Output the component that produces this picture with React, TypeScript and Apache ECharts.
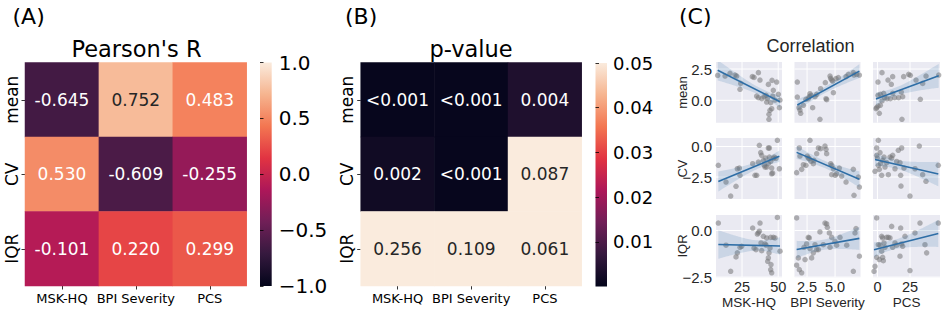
import React, { useEffect, useRef } from 'react';
import * as echarts from 'echarts';

// ---------- data ----------
const rowLabels = ['mean', 'CV', 'IQR'];
const colLabels = ['MSK-HQ', 'BPI Severity', 'PCS'];

const pearsonR = [
  [-0.645, 0.752, 0.483],
  [0.530, -0.609, -0.255],
  [-0.101, 0.220, 0.299],
];
const pValues = [
  [0.0005, 0.0005, 0.004],
  [0.002, 0.0005, 0.087],
  [0.256, 0.109, 0.061],
];
const pLabels = [
  ['<0.001', '<0.001', '0.004'],
  ['0.002', '<0.001', '0.087'],
  ['0.256', '0.109', '0.061'],
];
const pTicks = [0.01, 0.02, 0.03, 0.04, 0.05];

// scatter data (x = questionnaire score, y = feature)
const mean_MSKHQ = [[8.2,1.99],[13.3,1.94],[16.7,2.15],[20.2,2.02],[21.3,1.94],[23.6,0.88],[24.1,1.35],[32.1,1.89],[33.3,1.83],[36.3,2.21],[37.4,1.62],[35.1,0.34],[36.3,0.21],[38.6,0.13],[40.2,0.29],[41.6,0.40],[42.5,0.13],[43.2,1.27],[44.8,-0.19],[45.7,1.59],[45.5,-0.67],[44.3,-0.80],[43.6,-1.12],[43.6,-1.52],[46.6,0.80],[47.8,0.02],[48.9,1.46],[50.1,0.48],[50.8,-0.59],[51.2,0.02],[42.0,-0.14],[46.2,0.34]];
const mean_BPI = [[1.63,1.46],[1.63,0.26],[1.78,-0.59],[1.87,-0.78],[1.93,-1.04],[2.17,-0.40],[2.40,0.08],[2.61,0.13],[2.70,0.29],[2.76,0.53],[2.85,0.40],[3.00,-0.59],[3.21,0.29],[3.36,0.48],[3.65,-1.52],[4.13,1.41],[4.19,0.13],[4.25,0.05],[4.55,1.94],[4.61,1.75],[4.70,1.62],[4.79,1.54],[4.85,0.61],[5.08,1.73],[5.29,1.81],[5.98,1.89],[6.18,2.07],[6.63,2.21],[6.69,2.02],[6.93,2.07],[7.17,2.02],[3.71,0.93]];
const mean_PCS = [[3.50,2.21],[0.43,1.46],[8.10,1.62],[11.68,1.89],[10.66,1.28],[0.43,0.40],[2.21,0.48],[4.77,0.56],[5.54,0.21],[7.33,0.13],[9.89,0.13],[11.68,0.56],[13.21,0.21],[16.28,0.21],[18.32,0.66],[19.35,0.29],[-0.59,-0.59],[0.43,-0.46],[2.21,-0.40],[1.44,-1.04],[3.50,-0.05],[20.1,1.89],[23.95,2.08],[25.2,2.0],[29.6,1.62],[34.7,1.35],[32.9,0.08],[37.3,1.94],[47.0,2.02],[18.8,-1.52],[-1.1,-0.67]];
const cv_MSKHQ = [[8.65,-1.54],[13.95,-2.91],[17.17,-4.06],[20.85,-3.26],[21.77,-1.82],[23.15,-1.76],[23.61,-2.36],[32.36,-1.41],[33.97,-2.36],[35.12,-2.36],[36.28,-1.27],[36.97,0.10],[37.89,-0.50],[38.58,-0.72],[39.73,-1.13],[40.42,-1.54],[41.34,-0.94],[42.03,-1.68],[43.18,-0.12],[43.87,-0.12],[43.87,-0.86],[44.79,-1.22],[45.48,-1.76],[45.48,-2.23],[46.17,-2.17],[46.63,-0.97],[47.32,-0.86],[48.48,-0.97],[49.40,0.51],[50.78,-1.82],[43.18,-1.41],[40.88,-1.68]];
const cv_BPI = [[1.57,-2.14],[1.81,-0.12],[1.87,-0.78],[2.02,-1.87],[2.17,-1.49],[2.40,-1.54],[2.52,-0.78],[2.61,-0.94],[2.70,-1.00],[2.76,0.51],[2.85,-1.21],[3.12,-1.13],[3.36,-0.59],[3.51,-0.12],[3.71,-0.18],[4.10,0.04],[4.19,-0.23],[4.25,-0.59],[4.61,-1.41],[4.70,-1.54],[4.85,-1.82],[5.01,-2.36],[5.14,-2.23],[5.38,-1.76],[5.59,-2.42],[5.98,-2.91],[6.63,-1.87],[6.69,-4.00],[7.08,-2.50],[7.17,-3.32],[4.70,-2.31],[3.06,-1.41]];
const cv_PCS = [[-1.87,-2.03],[-0.59,-0.72],[-0.08,-0.94],[0.69,0.51],[0.69,-1.54],[1.46,-1.87],[1.97,-0.50],[2.48,-1.41],[3.25,-2.36],[4.01,-1.13],[5.04,-0.86],[5.80,-1.68],[7.08,-1.32],[8.36,-2.31],[9.64,-0.86],[10.91,-0.94],[11.68,-0.72],[13.47,-1.82],[14.75,-1.22],[16.03,-0.31],[17.31,-1.32],[17.82,-2.36],[18.58,-0.12],[18.07,-3.24],[20.37,-1.76],[24.97,-4.06],[28.81,-1.82],[32.13,0.04],[34.69,-2.31],[37.24,-2.85],[46.70,-1.54],[-0.59,-0.12]];
const iqr_MSKHQ = [[8.65,0.40],[13.95,-0.79],[17.17,-2.19],[20.85,-1.42],[21.77,-1.20],[23.61,-0.90],[24.76,-0.85],[32.36,0.13],[33.28,-0.94],[34.66,-1.03],[35.58,-0.19],[36.28,-0.13],[36.97,-0.04],[37.43,0.40],[38.12,-0.67],[38.58,-1.08],[39.73,-0.31],[40.88,-0.72],[41.57,-0.79],[42.03,-0.40],[42.72,-1.65],[43.18,-1.47],[43.64,-1.20],[44.33,-0.94],[44.79,-0.37],[45.02,-1.83],[44.79,-2.10],[45.48,-2.27],[46.63,-0.37],[47.78,-0.40],[49.40,0.70],[51.24,-1.11]];
const iqr_BPI = [[1.57,0.67],[1.57,-1.86],[1.72,-1.47],[1.81,-2.10],[2.02,-2.27],[2.23,-0.90],[2.32,-1.56],[2.46,-0.72],[2.61,-0.37],[2.70,-0.40],[2.76,-0.97],[2.91,-1.47],[3.06,-1.20],[3.21,-0.76],[3.36,-1.03],[3.65,-0.08],[3.95,-0.76],[4.10,0.40],[4.25,0.35],[4.31,0.17],[4.49,-0.13],[4.55,-0.90],[4.70,-0.37],[4.99,-0.58],[5.14,-0.79],[5.44,-0.37],[6.04,-0.79],[6.63,-2.19],[6.78,-0.13],[6.87,0.10],[7.17,-1.38],[3.51,-1.03]];
const iqr_PCS = [[-2.63,-2.19],[-1.87,-1.92],[-0.59,0.67],[-0.59,-1.44],[0.69,-0.76],[1.46,-1.56],[1.97,-0.79],[3.25,-0.31],[3.25,-1.11],[4.01,-1.44],[4.52,-1.62],[5.04,-0.67],[5.80,-0.90],[7.08,-0.37],[8.36,-0.37],[9.64,-0.40],[10.91,0.22],[11.68,-0.90],[13.47,-0.67],[14.75,-0.79],[17.31,-1.38],[17.82,0.13],[18.58,-0.72],[19.35,-0.85],[21.14,-0.31],[24.97,-2.15],[28.81,-0.13],[32.64,0.40],[36.47,-0.76],[37.75,-1.20],[46.70,0.40],[4.01,-0.40]];

const scatterGrid = [
  [mean_MSKHQ, mean_BPI, mean_PCS],
  [cv_MSKHQ, cv_BPI, cv_PCS],
  [iqr_MSKHQ, iqr_BPI, iqr_PCS],
];

// axis limits and ticks of the pair plot
const xLimits = [[7.04, 52.6], [1.38, 7.27], [-3.4, 48.0]];
const yLimits = [[-1.79, 3.06], [-4.30, 0.70], [-2.51, 0.83]];
const xTickValues = [[25, 50], [2.5, 5.0], [0, 25]];
const xTickDecimals = [0, 1, 0];
const yTickValues = [[0, 2.5], [-2.5, 0], [-2.5, 0]];

// ---------- styling helpers ----------
const DV = 'DejaVu Sans';
const AR = 'Liberation Sans';
const ROCKET = ['#03051a', '#35193e', '#701f57', '#ad1759', '#e13342', '#f37651', '#f6b48f', '#faebdd'];

function hexToRgb(h: string) {
  return [parseInt(h.slice(1, 3), 16), parseInt(h.slice(3, 5), 16), parseInt(h.slice(5, 7), 16)];
}
function rocket(t: number) {
  const tt = Math.max(0, Math.min(1, t));
  const pos = tt * (ROCKET.length - 1);
  const i = Math.min(Math.floor(pos), ROCKET.length - 2);
  const f = pos - i;
  const a = hexToRgb(ROCKET[i]);
  const b = hexToRgb(ROCKET[i + 1]);
  return a.map((v, k) => Math.round(v + (b[k] - v) * f));
}
function luminance(c: number[]) {
  const m = c.map((v) => {
    const s = v / 255;
    return s <= 0.03928 ? s / 12.92 : Math.pow((s + 0.055) / 1.055, 2.4);
  });
  return 0.2126 * m[0] + 0.7152 * m[1] + 0.0722 * m[2];
}
const minus = (s: string) => s.replace('-', '\u2212');

function regress(pts: number[][]) {
  const n = pts.length;
  const mx = pts.reduce((s, p) => s + p[0], 0) / n;
  const my = pts.reduce((s, p) => s + p[1], 0) / n;
  let sxx = 0, sxy = 0;
  pts.forEach((p) => { sxx += (p[0] - mx) ** 2; sxy += (p[0] - mx) * (p[1] - my); });
  const b = sxy / sxx;
  const a = my - b * mx;
  let sse = 0;
  pts.forEach((p) => { sse += (p[1] - a - b * p[0]) ** 2; });
  const s = Math.sqrt(sse / (n - 2));
  const xs = pts.map((p) => p[0]);
  return { n, mx, sxx, a, b, s, xmin: Math.min(...xs), xmax: Math.max(...xs) };
}

const LINE_COLOR = '#2e6ea6';
const BAND_COLOR = 'rgba(46,110,166,0.17)';
const POINT_COLOR = 'rgba(118,118,120,0.68)';

const colLeft = [716, 794.5, 873];
const colWidth = [66, 66, 67];
const rowTop = [62, 138, 215];
const rowHeight = [60.7, 61, 62.3];

function buildOption() {
  const grids: any[] = [
    { left: 25, top: 62.5, width: 221.7, height: 223.5 },
    { left: 360.7, top: 62.5, width: 221, height: 223.5 },
    { left: 260, top: 62.5, width: 11.7, height: 223.5 },
    { left: 595.5, top: 63, width: 11.5, height: 223.5 },
  ];
  const catX = (i: number) => ({
    type: 'category', gridIndex: i, data: colLabels, position: 'bottom',
    axisLine: { show: false },
    axisTick: { show: true, alignWithLabel: true, length: 3.5, lineStyle: { color: '#000', width: 0.8 } },
    axisLabel: { interval: 0, fontFamily: DV, fontSize: 13, color: '#000', margin: 6 },
    splitLine: { show: false }, splitArea: { show: false },
  });
  const catY = (i: number) => ({
    type: 'category', gridIndex: i, data: rowLabels, inverse: true,
    axisLine: { show: false },
    axisTick: { show: true, alignWithLabel: true, length: 3.5, lineStyle: { color: '#000', width: 0.8 } },
    axisLabel: { interval: 0, rotate: 90, fontFamily: DV, fontSize: 17, color: '#000', margin: 5 },
    splitLine: { show: false }, splitArea: { show: false },
  });
  const xAxes: any[] = [
    catX(0), catX(1),
    { type: 'value', gridIndex: 2, show: false, min: 0, max: 1 },
    { type: 'value', gridIndex: 3, show: false, min: 0, max: 1 },
  ];
  const yAxes: any[] = [
    catY(0), catY(1),
    {
      type: 'value', gridIndex: 2, position: 'right', min: -1, max: 1, interval: 0.5,
      axisLine: { show: false },
      axisTick: { show: true, length: 3.5, lineStyle: { color: '#000', width: 0.8 } },
      axisLabel: { fontFamily: DV, fontSize: 20, color: '#000', margin: 7, formatter: (v: number) => minus(v.toFixed(1)) },
      splitLine: { show: false },
    },
    {
      type: 'value', gridIndex: 3, position: 'right', min: 0, max: 0.05,
      axisLine: { show: false },
      axisTick: { show: true, length: 3.5, customValues: pTicks, lineStyle: { color: '#000', width: 0.8 } },
      axisLabel: { fontFamily: DV, fontSize: 18, color: '#000', margin: 6, customValues: pTicks, formatter: (v: number) => v.toFixed(2) },
      splitLine: { show: false },
    },
  ];

  const series: any[] = [];
  const heatA: any[] = [];
  const heatB: any[] = [];
  for (let r = 0; r < 3; r++) {
    for (let c = 0; c < 3; c++) {
      const colA = rocket((pearsonR[r][c] + 1) / 2);
      heatA.push({ value: [c, r, pearsonR[r][c]], txt: pearsonR[r][c].toFixed(3), label: { color: luminance(colA) > 0.408 ? '#262626' : '#ffffff' } });
      const colB = rocket(pValues[r][c] / 0.05);
      heatB.push({ value: [c, r, Math.min(pValues[r][c], 0.05)], txt: pLabels[r][c], label: { color: luminance(colB) > 0.408 ? '#262626' : '#ffffff' } });
    }
  }
  const heatSeries = (i: number, data: any[]) => ({
    type: 'heatmap', xAxisIndex: i, yAxisIndex: i, data,
    label: { show: true, fontFamily: DV, fontSize: 17, formatter: (p: any) => p.data.txt },
    itemStyle: { borderWidth: 0 },
    emphasis: { disabled: true },
  });
  series.push(heatSeries(0, heatA), heatSeries(1, heatB));

  for (let r = 0; r < 3; r++) {
    for (let c = 0; c < 3; c++) {
      const gi = 4 + r * 3 + c;
      const xr = xLimits[c];
      const yr = yLimits[r];
      grids.push({ left: colLeft[c], top: rowTop[r], width: colWidth[c], height: rowHeight[r], show: true, backgroundColor: '#EAEAF2', borderWidth: 0 });
      xAxes.push({
        type: 'value', gridIndex: gi, min: xr[0], max: xr[1],
        axisLine: { show: false }, axisTick: { show: false }, splitLine: { show: false },
        axisLabel: {
          show: r === 2, customValues: xTickValues[c], fontFamily: AR, fontSize: 14.5, color: '#262626', margin: 2.5,
          formatter: (v: number) => minus(v.toFixed(xTickDecimals[c])),
        },
      });
      yAxes.push({
        type: 'value', gridIndex: gi, min: yr[0], max: yr[1],
        axisLine: { show: false }, axisTick: { show: false }, splitLine: { show: false },
        axisLabel: {
          show: c === 0, customValues: yTickValues[r], fontFamily: AR, fontSize: 15, color: '#262626', margin: 4,
          formatter: (v: number) => minus(v.toFixed(1)),
        },
      });
      const pts = scatterGrid[r][c];
      const fit = regress(pts);
      const xts = xTickValues[c];
      const yts = yTickValues[r];
      series.push({
        type: 'custom', xAxisIndex: gi, yAxisIndex: gi, z: 1, silent: true, clip: true,
        data: [[xr[0], yr[0]]],
        renderItem: (_p: any, api: any) => {
          const children: any[] = [];
          xts.forEach((xt) => {
            const a = api.coord([xt, yr[0]]); const b = api.coord([xt, yr[1]]);
            children.push({ type: 'line', shape: { x1: a[0], y1: a[1], x2: b[0], y2: b[1] }, style: { stroke: '#ffffff', lineWidth: 1 } });
          });
          yts.forEach((yt) => {
            const a = api.coord([xr[0], yt]); const b = api.coord([xr[1], yt]);
            children.push({ type: 'line', shape: { x1: a[0], y1: a[1], x2: b[0], y2: b[1] }, style: { stroke: '#ffffff', lineWidth: 1 } });
          });
          return { type: 'group', children };
        },
      });
      series.push({
        type: 'scatter', xAxisIndex: gi, yAxisIndex: gi, z: 2, data: pts,
        symbolSize: 5.5, itemStyle: { color: POINT_COLOR }, silent: true,
      });
      series.push({
        type: 'custom', xAxisIndex: gi, yAxisIndex: gi, z: 3, silent: true, clip: true,
        data: [[fit.xmin, fit.a + fit.b * fit.xmin]],
        renderItem: (_p: any, api: any) => {
          const N = 48;
          const up: number[][] = [];
          const lo: number[][] = [];
          for (let k = 0; k <= N; k++) {
            const x = fit.xmin + (fit.xmax - fit.xmin) * (k / N);
            const yh = fit.a + fit.b * x;
            const h = 2.04 * fit.s * Math.sqrt(1 / fit.n + (x - fit.mx) ** 2 / fit.sxx);
            up.push(api.coord([x, yh + h]));
            lo.push(api.coord([x, yh - h]));
          }
          const points = up.concat(lo.reverse());
          return { type: 'polygon', shape: { points }, style: { fill: BAND_COLOR } };
        },
      });
      series.push({
        type: 'line', xAxisIndex: gi, yAxisIndex: gi, z: 4, silent: true,
        data: [[fit.xmin, fit.a + fit.b * fit.xmin], [fit.xmax, fit.a + fit.b * fit.xmax]],
        showSymbol: false, symbol: 'none', lineStyle: { color: LINE_COLOR, width: 1.6 },
      });
    }
  }

  const gradStops = ROCKET.map((c, i) => ({ offset: 1 - i / (ROCKET.length - 1), color: c })).reverse();
  const text = (x: number, y: number, t: string, size: number, family: string, extra: any = {}) => ({
    type: 'text', x, y, rotation: extra.rotation || 0,
    style: { text: t, fontFamily: family, fontSize: size, fill: extra.fill || '#000', align: extra.align || 'center', verticalAlign: 'middle' },
  });

  const graphic: any[] = [
    { type: 'rect', shape: { x: 260, y: 62.5, width: 11.7, height: 223.5 }, style: { fill: new echarts.graphic.LinearGradient(0, 0, 0, 1, gradStops) } },
    { type: 'rect', shape: { x: 595.5, y: 63, width: 11.5, height: 223.5 }, style: { fill: new echarts.graphic.LinearGradient(0, 0, 0, 1, gradStops) } },
    text(12.5, 16, '(A)', 22, DV, { align: 'left' }),
    text(345, 16, '(B)', 22, DV, { align: 'left' }),
    text(679, 16, '(C)', 22, DV, { align: 'left' }),
    text(136.5, 49, "Pearson's R", 22.5, DV),
    text(471, 49, 'p-value', 22.5, DV),
    text(810.5, 46, 'Correlation', 18, AR, { fill: '#262626' }),
    text(749, 302, colLabels[0], 13.5, AR, { fill: '#262626' }),
    text(827.5, 302, colLabels[1], 13.5, AR, { fill: '#262626' }),
    text(906.5, 302, colLabels[2], 13.5, AR, { fill: '#262626' }),
    text(682, 92.5, rowLabels[0], 13, AR, { fill: '#262626', rotation: Math.PI / 2 }),
    text(682, 168.5, rowLabels[1], 13, AR, { fill: '#262626', rotation: Math.PI / 2 }),
    text(682, 246, rowLabels[2], 13, AR, { fill: '#262626', rotation: Math.PI / 2 }),
  ];

  return {
    animation: false,
    backgroundColor: '#ffffff',
    grid: grids,
    xAxis: xAxes,
    yAxis: yAxes,
    visualMap: [
      { type: 'continuous', seriesIndex: 0, dimension: 2, min: -1, max: 1, inRange: { color: ROCKET }, show: false },
      { type: 'continuous', seriesIndex: 1, dimension: 2, min: 0, max: 0.05, inRange: { color: ROCKET }, show: false },
    ],
    series,
    graphic,
  };
}

export default function App() {
  const ref = useRef<HTMLDivElement>(null);
  useEffect(() => {
    const chart = echarts.init(ref.current!, null, { renderer: 'svg' });
    chart.setOption(buildOption() as any);
    return () => chart.dispose();
  }, []);
  return <div ref={ref} style={{ position: 'absolute', left: 0, top: 0, width: 944, height: 312 }} />;
}
